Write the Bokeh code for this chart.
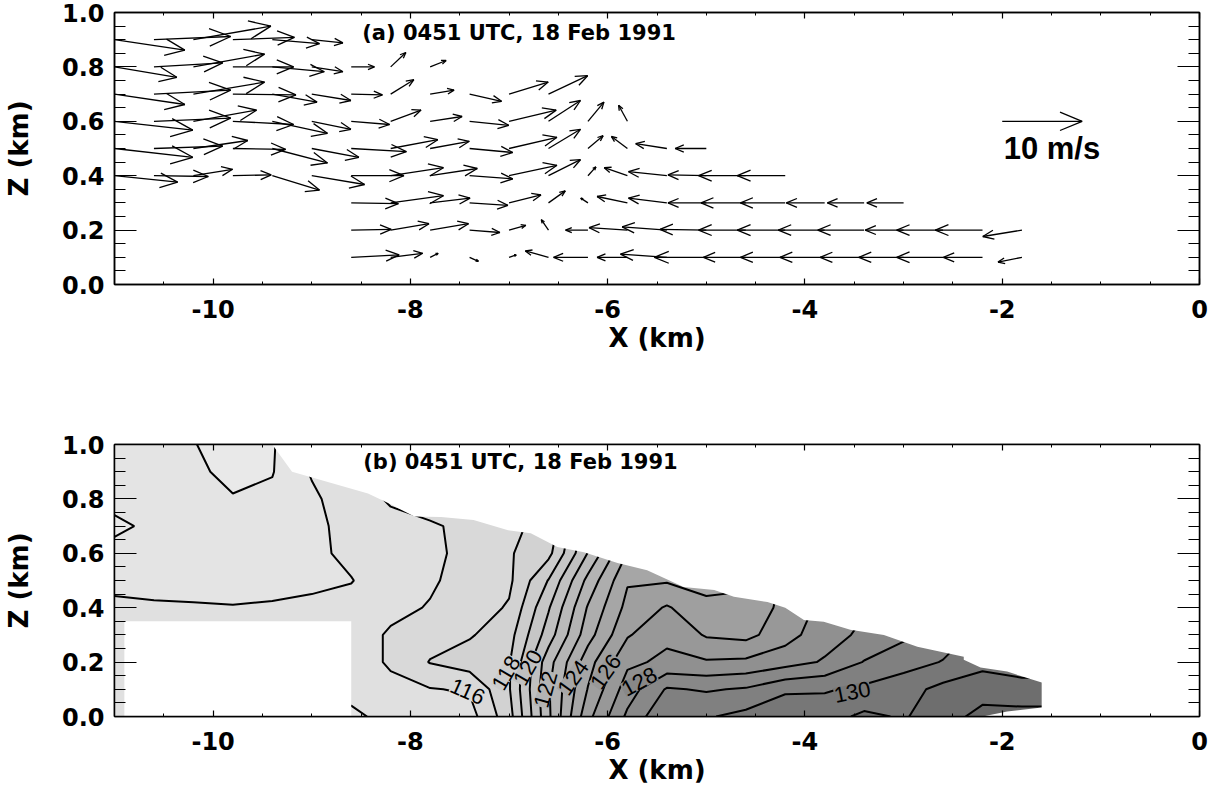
import math
import numpy as np
from bokeh.plotting import figure
from bokeh.layouts import column
from bokeh.models import (ColumnDataSource, FixedTicker, LinearAxis, Label,
                          Range1d, CustomJSTickFormatter, PrintfTickFormatter)
from bokeh.embed import file_html
from bokeh.resources import INLINE

# ============================ DATA ============================
# Panel (a): wind vectors (u, w in m/s) on rows of grid points 0.4 km apart
row_z = [0.9, 0.8, 0.7, 0.6, 0.5, 0.4, 0.3, 0.2, 0.1]
row_first_x = [-11.0, -11.0, -11.0, -11.0, -11.0, -11.0, -8.6, -8.6, -8.6]
grid_step_km = 0.4

u_z09 = [8.8, 9.6, 9.7, 7.7, 5.9, 3.9]
w_z09 = [-1.3, 0.4, 1.7, 0.3, -0.5, -0.4]
u_z08 = [7.8, 8.6, 8.9, 7.6, 6.5, 3.9, 2.9, 1.9, 2.0]
w_z08 = [-1.3, 0.5, 1.6, 0.0, -0.6, -0.6, 0.0, 1.8, 0.8]
u_z07 = [8.8, 9.6, 8.9, 7.9, 5.6, 4.9, 3.9, 2.9, 3.0, 4.0, 4.9, 4.9]
w_z07 = [-1.3, 0.5, 1.5, -0.1, -1.0, -0.8, -0.1, 1.8, 0.5, -0.9, 1.5, 2.3]
u_z06 = [9.8, 9.6, 7.9, 7.6, 6.9, 4.9, 4.8, 3.8, 4.0, 4.9, 5.9, 4.0, 2.0, -1.1]
w_z06 = [-1.1, 0.4, 1.4, -0.4, -1.5, -1.0, -0.4, 1.4, 0.6, -0.5, 1.4, 2.6, 2.4, 2.0]
u_z05 = [9.8, 8.6, 6.8, 6.6, 6.9, 5.9, 6.9, 5.9, 4.9, 5.4, 6.0, 4.0, 1.9, -2.0, -3.9, -3.9]
w_z05 = [-1.1, 0.3, 1.0, -0.1, -1.8, -1.1, -0.4, 1.1, 0.9, -0.5, 1.4, 2.4, 1.6, 1.5, 0.6, 0.0]
u_z04 = [7.9, 6.8, 4.9, 4.8, 5.9, 6.6, 6.6, 6.6, 5.9, 5.4, 6.0, 4.0, 1.0, -2.9, -4.8, -4.8, -5.9, -6.0]
w_z04 = [-0.8, -0.1, 0.8, 0.1, -1.8, -1.1, 0.0, 1.0, 0.9, -0.4, 1.3, 2.0, 1.1, 1.0, 0.5, 0.1, 0.0, 0.0]
u_z03 = [5.9, 6.6, 5.0, 4.8, 4.0, 2.1, -0.9, -3.8, -4.8, -4.8, -5.6, -5.6, -4.8, -4.6, -4.6]
w_z03 = [-0.1, 0.9, 0.6, -0.3, 1.0, 1.5, 0.6, 0.8, 0.6, 0.0, 0.0, 0.0, 0.0, 0.0, 0.0]
u_z02 = [5.0, 4.8, 4.8, 3.8, 2.1, -0.9, -2.8, -4.8, -5.6, -5.8, -5.9, -6.0, -5.8, -5.8, -4.8, -5.8, -5.9, -4.9]
w_z02 = [0.1, 0.8, 0.8, -0.3, 0.6, 1.3, 0.0, 0.3, 0.4, 0.1, 0.0, 0.0, 0.0, 0.0, 0.0, 0.0, 0.0, -0.8]
u_z01 = [6.0, 4.0, 1.0, 1.1, 0.9, -2.9, -4.3, -3.8, -5.8, -6.5, -5.3, -5.6, -5.6, -5.5, -5.6, -5.8, -4.9, -3.0]
w_z01 = [0.3, 0.5, 0.5, -0.5, 0.3, 0.8, 0.0, 0.0, 0.4, 0.0, 0.0, 0.0, 0.0, 0.0, 0.0, 0.0, 0.0, -0.6]

u_rows = [u_z09, u_z08, u_z07, u_z06, u_z05, u_z04, u_z03, u_z02, u_z01]
w_rows = [w_z09, w_z08, w_z07, w_z06, w_z05, w_z04, w_z03, w_z02, w_z01]

ref_vector_speed = 10.0        # m/s
ref_vector_x = -2.0
ref_vector_z = 0.6
ref_vector_text = "10 m/s"

# Panel (b): gridded field (columns at theta_x, values at theta_z levels)
theta_x = [-11.0, -10.6, -10.2, -9.8, -9.4, -9.0, -8.6, -8.2, -7.8, -7.4, -7.0, -6.6,
           -6.2, -5.8, -5.4, -5.0, -4.6, -4.2, -3.8, -3.4, -3.0, -2.6, -2.2, -1.8, -1.4]
theta_z = [0.0, 0.1, 0.2, 0.3, 0.4, 0.5, 0.6, 0.7, 0.8, 0.9, 1.0]
theta_by_column = [
    [115.6, 115.6, 115.6, 115.5, 115.3, 114.6, 114.3, 113.8, 114.3, 114.4, 114.5],
    [115.6, 115.6, 115.6, 115.5, 115.15, 114.6, 114.4, 114.2, 114.4, 114.5, 114.5],
    [115.6, 115.6, 115.6, 115.5, 115.1, 114.6, 114.5, 114.5, 114.4, 114.3, 114.05],
    [115.6, 115.6, 115.6, 115.5, 115.05, 114.6, 114.5, 114.4, 114.1, 113.6, 113.5],
    [115.6, 115.6, 115.6, 115.5, 115.1, 114.7, 114.6, 114.5, 114.2, 113.95, 113.9],
    [115.6, 115.6, 115.6, 115.5, 115.2, 114.8, 114.7, 114.7, 114.8, 115.1, 115.2],
    [114.8, 115.3, 115.6, 115.6, 115.4, 114.95, 115.3, 115.4, 115.6, 115.8, 116.05],
    [115.3, 115.8, 116.1, 116.1, 115.8, 115.7, 115.6, 115.75, 116.1, 116.3, 116.5],
    [115.6, 115.95, 117.05, 116.6, 116.05, 115.9, 115.85, 115.95, 116.2, 116.4, 116.5],
    [115.6, 116.1, 117.5, 116.9, 116.5, 116.3, 116.2, 116.1, 116.3, 116.5, 116.6],
    [117.6, 117.9, 117.9, 117.6, 117.1, 116.8, 116.9, 116.8, 116.9, 116.9, 116.9],
    [121.8, 121.9, 121.6, 120.5, 119.9, 119.05, 117.7, 117.3, 117.2, 117.2, 117.2],
    [125.7, 125.05, 124.6, 123.6, 123.1, 122.3, 121.05, 120.5, 120.3, 120.2, 120.2],
    [128.2, 127.5, 126.8, 125.9, 125.3, 124.9, 124.05, 123.6, 123.4, 123.3, 123.3],
    [129.9, 129.1, 127.2, 126.8, 126.1, 124.9, 124.5, 124.3, 124.2, 124.2, 124.2],
    [129.9, 128.9, 127.1, 125.9, 125.3, 124.6, 124.4, 124.3, 124.2, 124.2, 124.2],
    [130.3, 129.1, 127.2, 125.7, 125.3, 124.8, 124.7, 124.6, 124.6, 124.6, 124.6],
    [130.9, 129.8, 127.6, 126.6, 126.3, 126.2, 126.1, 126.1, 126.1, 126.1, 126.1],
    [130.6, 129.9, 128.1, 127.6, 127.3, 127.2, 127.1, 127.1, 127.1, 127.1, 127.1],
    [131.2, 130.2, 129.05, 128.2, 127.9, 127.8, 127.7, 127.7, 127.7, 127.7, 127.7],
    [130.9, 130.6, 129.6, 128.8, 128.5, 128.4, 128.4, 128.4, 128.4, 128.4, 128.4],
    [131.6, 131.3, 130.05, 129.5, 129.3, 129.2, 129.2, 129.2, 129.2, 129.2, 129.2],
    [132.3, 131.6, 130.7, 130.3, 130.1, 130.1, 130.1, 130.1, 130.1, 130.1, 130.1],
    [132.4, 131.3, 130.6, 130.4, 130.3, 130.3, 130.3, 130.3, 130.3, 130.3, 130.3],
    [132.4, 131.3, 130.6, 130.4, 130.3, 130.3, 130.3, 130.3, 130.3, 130.3, 130.3],
]
contour_levels = list(range(112, 134))

# labelled contours
contour_label_values = [116, 118, 120, 122, 124, 126, 128, 130]
contour_label_x = [-7.42, -7.03, -6.81, -6.63, -6.35, -6.02, -5.68, -3.52]
contour_label_z = [0.092, 0.16, 0.18, 0.10, 0.143, 0.165, 0.128, 0.09]
contour_label_angle = [-0.42, 1.05, 1.05, 1.3, 0.95, 0.95, 0.5, 0.2]

# top of the data domain (radar coverage) in panel (b)
domain_top_x = [-9.4, -9.2, -8.43, -8.2, -7.96, -7.69, -7.36, -7.01, -6.78, -6.51, -6.24,
                -5.90, -5.60, -5.23, -4.92, -4.72, -4.38, -4.20, -4.01, -3.81, -3.54,
                -3.20, -2.86, -2.39, -2.39, -2.22, -1.95, -1.60, -1.60, -1.95, -2.20]
domain_top_z = [1.0, 0.90, 0.82, 0.78, 0.735, 0.733, 0.722, 0.685, 0.674, 0.623, 0.604,
                0.564, 0.538, 0.476, 0.465, 0.44, 0.421, 0.40, 0.355, 0.348, 0.319,
                0.30, 0.256, 0.22, 0.209, 0.18, 0.165, 0.125, 0.033, 0.018, 0.0]
# region without data (lower left)
nodata_left, nodata_right, nodata_bottom, nodata_top = -10.9, -8.6, 0.0, 0.35

x_major_ticks = [-10, -8, -6, -4, -2, 0]
z_major_ticks = [0.0, 0.2, 0.4, 0.6, 0.8, 1.0]

title_a = "(a) 0451 UTC, 18 Feb 1991"
title_b = "(b) 0451 UTC, 18 Feb 1991"

# ============================ LAYOUT ============================
FRAME_W, FRAME_H = 1086, 272
X_RANGE = (-11.0, 0.0)
Z_RANGE = (0.0, 1.0)
PX_PER_X = FRAME_W / (X_RANGE[1] - X_RANGE[0])
PX_PER_Z = FRAME_H / (Z_RANGE[1] - Z_RANGE[0])
PX_PER_MS = 8.0

x_minor_ticks = [X_RANGE[0] + 0.5 * i for i in range(23)]
z_minor_ticks = [0.05 * i for i in range(21)]

TICK_FONT = "DejaVu Sans"


def blank_axis(ticker, tick_in, minor_in):
    return LinearAxis(ticker=ticker, formatter=CustomJSTickFormatter(code="return ''"),
                      major_tick_in=tick_in, major_tick_out=0,
                      minor_tick_in=minor_in, minor_tick_out=0,
                      major_label_standoff=0, major_label_text_font_size="1px",
                      axis_line_color="black", axis_line_width=1.5,
                      major_tick_line_color="black", minor_tick_line_color="black",
                      major_tick_line_width=1.2, minor_tick_line_width=1.0)


def make_panel(height, border_top, border_bottom):
    p = figure(width=1219, height=height,
               x_range=Range1d(*X_RANGE), y_range=Range1d(*Z_RANGE),
               min_border_left=113, min_border_right=20,
               min_border_top=border_top, min_border_bottom=border_bottom,
               toolbar_location=None, output_backend="svg",
               background_fill_color="white", border_fill_color="white")
    p.grid.visible = False
    p.outline_line_color = "black"
    p.outline_line_width = 1.5

    xt = FixedTicker(ticks=x_major_ticks, minor_ticks=x_minor_ticks)
    zt = FixedTicker(ticks=z_major_ticks, minor_ticks=z_minor_ticks)

    ax = p.xaxis[0]
    ax.ticker = xt
    ax.formatter = PrintfTickFormatter(format="%d")
    ax.axis_label = "X (km)"
    ay = p.yaxis[0]
    ay.ticker = zt
    ay.formatter = PrintfTickFormatter(format="%.1f")
    ay.axis_label = "Z (km)"
    for a in (ax, ay):
        a.axis_label_text_font = TICK_FONT
        a.axis_label_text_font_style = "bold"
        a.axis_label_text_font_size = "26px"
        a.axis_label_text_color = "black"
        a.major_label_text_font = TICK_FONT
        a.major_label_text_font_style = "bold"
        a.major_label_text_font_size = "24px"
        a.major_label_text_color = "black"
        a.major_tick_out = 0
        a.minor_tick_out = 0
        a.axis_line_color = "black"
        a.axis_line_width = 1.5
        a.major_tick_line_color = "black"
        a.minor_tick_line_color = "black"
        a.major_tick_line_width = 1.2
        a.minor_tick_line_width = 1.0
    ax.major_tick_in = 6
    ax.minor_tick_in = 3
    ax.major_label_standoff = 15
    ax.axis_label_standoff = 2
    ay.major_tick_in = 22
    ay.minor_tick_in = 11
    ay.major_label_standoff = 10
    ay.axis_label_standoff = 25

    p.add_layout(blank_axis(xt, 6, 3), "above")
    p.add_layout(blank_axis(zt, 22, 11), "right")
    return p


def vector_segments(xs0, zs0, us, ws):
    X0, Z0, X1, Z1 = [], [], [], []
    ca, sa = math.cos(math.radians(22.5)), math.sin(math.radians(22.5))
    for x0, z0, u, w in zip(xs0, zs0, us, ws):
        dxp, dyp = u * PX_PER_MS, w * PX_PER_MS
        L = math.hypot(dxp, dyp)
        x1 = x0 + dxp / PX_PER_X
        z1 = z0 + dyp / PX_PER_Z
        X0.append(x0); Z0.append(z0); X1.append(x1); Z1.append(z1)
        if L == 0:
            continue
        ex, ey = dxp / L, dyp / L
        h = 0.3 * L
        for s in (1, -1):
            bx = -h * (ca * ex - s * sa * ey)
            by = -h * (ca * ey + s * sa * ex)
            X0.append(x1); Z0.append(z1)
            X1.append(x1 + bx / PX_PER_X); Z1.append(z1 + by / PX_PER_Z)
    return dict(x0=X0, y0=Z0, x1=X1, y1=Z1)


# ---------------- panel (a) ----------------
p1 = make_panel(400, 12, 116)

ax0, az0, au, aw = [], [], [], []
for z, xf, us, ws in zip(row_z, row_first_x, u_rows, w_rows):
    for k, (u, w) in enumerate(zip(us, ws)):
        ax0.append(xf + grid_step_km * k)
        az0.append(z)
        au.append(u)
        aw.append(w)

vec_src = ColumnDataSource(vector_segments(ax0, az0, au, aw))
p1.segment(x0="x0", y0="y0", x1="x1", y1="y1", source=vec_src,
           line_color="black", line_width=1.3)

ref_src = ColumnDataSource(vector_segments([ref_vector_x], [ref_vector_z],
                                           [ref_vector_speed], [0.0]))
p1.segment(x0="x0", y0="y0", x1="x1", y1="y1", source=ref_src,
           line_color="black", line_width=1.3)
p1.add_layout(Label(x=ref_vector_x + 0.015, y=0.50, text=ref_vector_text,
                    text_font="Liberation Sans", text_font_style="bold",
                    text_font_size="31px", text_color="black",
                    text_baseline="middle", text_align="left"))
p1.add_layout(Label(x=-8.488, y=0.926, text=title_a, text_font="DejaVu Sans",
                    text_font_style="bold", text_font_size="21px", text_color="black",
                    text_baseline="middle", text_align="left"))

# ---------------- panel (b) ----------------
p2 = make_panel(399, 44, 83)

band_lower = np.array(contour_levels[:-1], dtype=float)
grey = np.interp(band_lower, [112, 115, 118, 122, 126, 129, 132],
                 [238, 224, 204, 180, 152, 128, 102]).astype(int)
band_colors = ["#%02x%02x%02x" % (g, g, g) for g in grey]

Zfield = np.array(theta_by_column, dtype=float).T
p2.contour(x=np.array(theta_x), y=np.array(theta_z), z=Zfield, levels=contour_levels,
           fill_color=band_colors, line_color="black", line_width=2.0)

# white mask above the data domain: boundary, then around the outside of the frame
mask_x = domain_top_x + [domain_top_x[-1], 0.5, 0.5, domain_top_x[0]]
mask_z = domain_top_z + [-0.05, -0.05, 1.05, 1.05]
p2.patch(mask_x, mask_z, fill_color="white", line_color=None)
p2.quad(left=[nodata_left], right=[nodata_right], bottom=[nodata_bottom - 0.05],
        top=[nodata_top], fill_color="white", line_color=None)

for val, lx, lz, ang in zip(contour_label_values, contour_label_x,
                            contour_label_z, contour_label_angle):
    p2.add_layout(Label(x=lx, y=lz, text=str(val), angle=ang,
                        text_font="Liberation Sans", text_font_size="22px",
                        text_color="black", text_align="center", text_baseline="middle",
                        background_fill_color=band_colors[val - contour_levels[0]],
                        background_fill_alpha=1.0))

p2.add_layout(Label(x=-8.478, y=0.934, text=title_b, text_font="DejaVu Sans",
                    text_font_style="bold", text_font_size="21px", text_color="black",
                    text_baseline="middle", text_align="left"))

layout = column(p1, p2, spacing=0)
open("out.html", "w").write(file_html(layout, INLINE))
